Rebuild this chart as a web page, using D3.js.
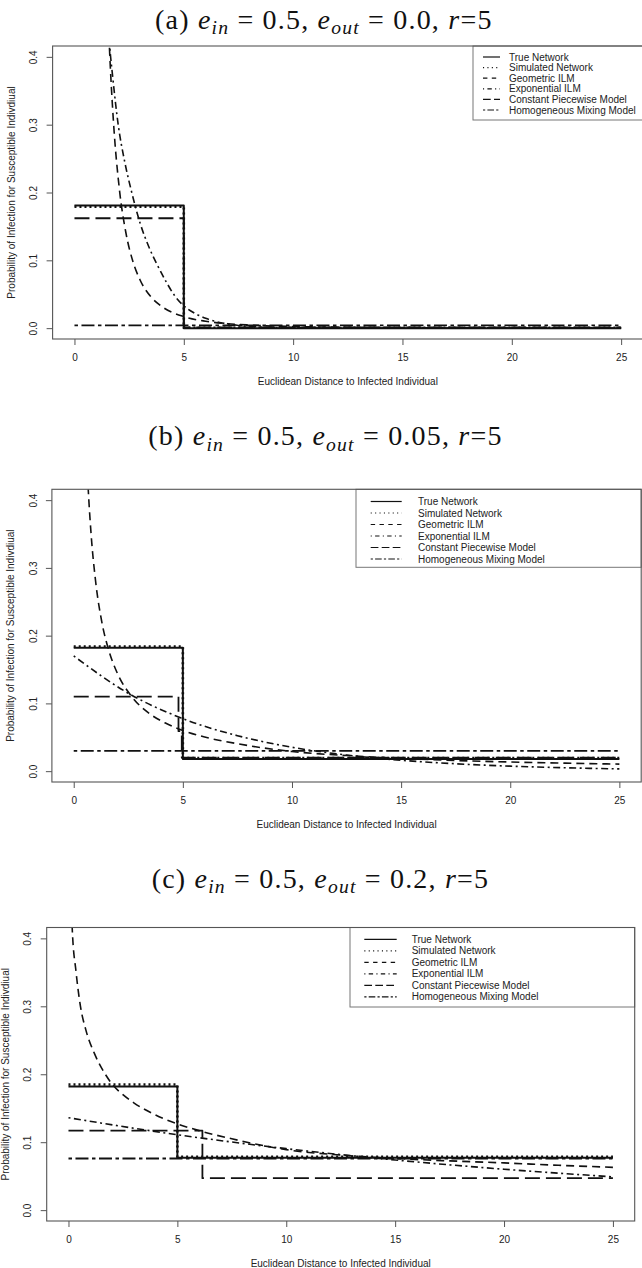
<!DOCTYPE html>
<html><head><meta charset="utf-8">
<script src="https://cdn.jsdelivr.net/npm/d3@7"></script>
<style>body{margin:0;background:#fff} svg{display:block}</style>
</head><body><svg id="c" width="642" height="1268"></svg>
<script>
// ---------- data ----------
const xTicks = [0, 5, 10, 15, 20, 25];
const yTicks = [0, 0.1, 0.2, 0.3, 0.4];
const seriesNames = ["True Network","Simulated Network","Geometric ILM","Exponential ILM","Constant Piecewise Model","Homogeneous Mixing Model"];
const xLabel = "Euclidean Distance to Infected Individual";
const yLabel = "Probability of Infection for Susceptible Indivdiual";

// panel (a): e_in = 0.5, e_out = 0.0
const A_true_d = [0, 5, 25],  A_true_p = [0.181, 0, 0];
const A_sim_d  = [0, 5, 25],  A_sim_p  = [0.179, 0.0005, 0.0005];
const A_geo_d  = [1.3,1.45,1.6,1.78,2.05,2.35,2.68,3.0,3.5,4.0,5.0,6.0,7.0,8.0,10,12,15,20,25];
const A_geo_p  = [0.739,0.544,0.413,0.306,0.206,0.141,0.0975,0.071,0.046,0.0318,0.017,0.0102,0.0066,0.0046,0.0024,0.0015,0.0008,0.00035,0.0002];
const A_exp_d  = [1.4,1.5,1.6,1.75,2.0,2.3,2.62,3.0,3.4,3.76,4.2,4.6,5.0,5.5,6.0,6.5,7.0,7.5,8.0,9.0,10,12,15,25];
const A_exp_p  = [0.53,0.47,0.42,0.37,0.30,0.245,0.20,0.155,0.12,0.095,0.068,0.047,0.033,0.022,0.0145,0.0095,0.0062,0.004,0.0026,0.0011,0.0005,0.0001,0,0];
const A_pw_d   = [0, 5, 25],  A_pw_p   = [0.162, 0.001, 0.001];
const A_hom_d  = [0, 25],     A_hom_p  = [0.004, 0.004];

// panel (b): e_in = 0.5, e_out = 0.05
const B_true_d = [0, 5, 25],  B_true_p = [0.182, 0.018, 0.018];
const B_sim_d  = [0, 5, 25],  B_sim_p  = [0.184, 0.0195, 0.0195];
const B_geo_d  = [0.6,0.67,0.8,1.0,1.3,1.6,2.0,2.66,3.5,4.2,5,6,7.5,10,12.5,15,17.5,20,22.5,25];
const B_geo_p  = [0.459,0.413,0.348,0.281,0.218,0.179,0.1445,0.11,0.0843,0.071,0.06,0.0504,0.0405,0.029,0.023,0.019,0.0158,0.0135,0.0118,0.0104];
const B_exp_d  = [0,2.5,5,7.5,10,12.5,15,17.5,20,22.5,25];
const B_exp_p  = [0.170,0.115,0.0775,0.0524,0.0353,0.0238,0.0161,0.0109,0.0074,0.0050,0.0033];
const B_pw_d   = [0, 4.8, 4.95, 25], B_pw_p = [0.11, 0.059, 0.02, 0.02];
const B_hom_d  = [0, 25],     B_hom_p  = [0.03, 0.03];

// panel (c): e_in = 0.5, e_out = 0.2
const C_true_d = [0, 5, 25],  C_true_p = [0.182, 0.077, 0.077];
const C_sim_d  = [0, 5, 25],  C_sim_p  = [0.185, 0.0785, 0.0785];
const C_geo_d  = [0.14,0.17,0.35,0.55,0.8,1.2,1.69,2.07,2.5,3,4,5,6,7.5,10,12.5,15,17.5,20,22.5,25];
const C_geo_p  = [0.44,0.416,0.35,0.30,0.265,0.23,0.20,0.183,0.17,0.158,0.14,0.127,0.117,0.105,0.089,0.081,0.076,0.0725,0.0695,0.066,0.063];
const C_exp_d  = [0,5,10,15,20,25];
const C_exp_p  = [0.136,0.111,0.0905,0.0738,0.0602,0.049];
const C_pw_d   = [0, 6.15, 25], C_pw_p = [0.117, 0.047, 0.047];
const C_hom_d  = [0, 25],     C_hom_p  = [0.076, 0.076];

const titleLetters = ["(a)", "(b)", "(c)"];
const titleEin = ["0.5", "0.5", "0.5"];
const titleEout = ["0.0", "0.05", "0.2"];
const titleR = ["5", "5", "5"];

// ---------- styles ----------
const lineStyles = [
  {w:2.0, dash:null},
  {w:2.6, dash:"2,3"},
  {w:1.6, dash:"8,5"},
  {w:1.6, dash:"2,3.5,7,3.5"},
  {w:1.8, dash:"15,6"},
  {w:1.8, dash:"3.5,3.5,13,3.5"}
];
const legendDash = [null, "1.1,3.3", "4.4,4.4", "1.1,3.3,4.4,3.3", "7.7,3.3", "2.2,2.2,6.6,2.2"];
const curveKinds = ["step","step","smooth","smooth","step","step"];

const SANS = "'Liberation Sans', Arial, Helvetica, sans-serif";
const SERIF = "'Liberation Serif', 'Times New Roman', serif";

const panels = [
  {L:52.6, R:643, T:46, B:339, titleX:155, titleY:28.5, titleW:353,
   leg:{x:473, s1:483, s2:500, tx:509, first:11, step:10.6, h:74},
   series:[[A_true_d,A_true_p],[A_sim_d,A_sim_p],[A_geo_d,A_geo_p],[A_exp_d,A_exp_p],[A_pw_d,A_pw_p],[A_hom_d,A_hom_p]]},
  {L:51.9, R:641.2, T:489.3, B:782, titleX:148.3, titleY:445, titleW:366,
   leg:{x:356, s1:370.7, s2:401.7, tx:418, first:12.2, step:11.5, h:78},
   series:[[B_true_d,B_true_p],[B_sim_d,B_sim_p],[B_geo_d,B_geo_p],[B_exp_d,B_exp_p],[B_pw_d,B_pw_p],[B_hom_d,B_hom_p]]},
  {L:46.7, R:634.7, T:927.5, B:1221, titleX:151.7, titleY:887.5, titleW:353,
   leg:{x:350, s1:364.3, s2:396.7, tx:411.7, first:11.8, step:11.5, h:79.5},
   series:[[C_true_d,C_true_p],[C_sim_d,C_sim_p],[C_geo_d,C_geo_p],[C_exp_d,C_exp_p],[C_pw_d,C_pw_p],[C_hom_d,C_hom_p]]}
];

const svg = d3.select("#c");
svg.append("rect").attr("width",642).attr("height",1268).attr("fill","#fff");

// ---------- titles ----------
const titleSize = 28;
function drawTitle(i, p) {
  const size = titleSize;
  const t = svg.append("text").attr("class","ttl")
    .attr("x", p.titleX).attr("y", p.titleY)
    .attr("font-family", SERIF).attr("font-size", size).attr("fill","#111");
  const sub = size*0.7, drop = size*0.2;
  t.append("tspan").text(titleLetters[i] + " ");
  t.append("tspan").attr("font-style","italic").text("e");
  t.append("tspan").attr("font-style","italic").attr("font-size",sub).attr("dy",drop).text("in");
  t.append("tspan").attr("dy",-drop).text(" = " + titleEin[i] + ", ");
  t.append("tspan").attr("font-style","italic").text("e");
  t.append("tspan").attr("font-style","italic").attr("font-size",sub).attr("dy",drop).text("out");
  t.append("tspan").attr("dy",-drop).text(" = " + titleEout[i] + ", ");
  t.append("tspan").attr("font-style","italic").text("r");
  t.append("tspan").text("=" + titleR[i]);
  const w = t.node().getComputedTextLength();
  const n = t.text().length;
  const ls = Math.max(0, Math.min(1.2, (p.titleW - w) / (n - 1)));
  t.attr("letter-spacing", ls.toFixed(2));
  return t;
}
panels.forEach((p,i) => drawTitle(i, p));

// ---------- panels ----------
panels.forEach((p, pi) => {
  const x = d3.scaleLinear().domain([-1, 26]).range([p.L, p.R]);
  const y = d3.scaleLinear().domain([-0.016, 0.416]).range([p.B, p.T]);
  const g = svg.append("g");
  const clipId = "clip" + pi;
  g.append("clipPath").attr("id", clipId).append("rect")
    .attr("x", p.L).attr("y", p.T).attr("width", p.R - p.L).attr("height", p.B - p.T);

  const lg = g.append("g");
  lg.append("rect").attr("x", p.leg.x).attr("y", p.T)
    .attr("width", p.R - p.leg.x).attr("height", p.leg.h)
    .attr("fill","#fff").attr("stroke","#777").attr("stroke-width",1);

  const lines = g.append("g").attr("clip-path", `url(#${clipId})`);
  p.series.forEach((s, si) => {
    const pts = s[0].map((d, k) => [d, s[1][k]]);
    const gen = d3.line().x(d => x(d[0])).y(d => y(d[1]))
      .curve(curveKinds[si] === "step" ? d3.curveStepAfter : d3.curveMonotoneX);
    const st = lineStyles[si];
    const path = lines.append("path").attr("d", gen(pts))
      .attr("fill","none").attr("stroke","#111").attr("stroke-width", st.w)
      .attr("stroke-linejoin","round");
    if (st.dash) path.attr("stroke-dasharray", st.dash);
  });

  seriesNames.forEach((name, k) => {
    const cy = p.T + p.leg.first + k * p.leg.step;
    const ln = lg.append("line").attr("x1", p.leg.s1).attr("x2", p.leg.s2)
      .attr("y1", cy).attr("y2", cy).attr("stroke","#111").attr("stroke-width",1.2);
    if (legendDash[k]) ln.attr("stroke-dasharray", legendDash[k]);
    lg.append("text").attr("x", p.leg.tx).attr("y", cy + 3.6)
      .attr("font-family", SANS).attr("font-size", 10).attr("fill","#222").text(name);
  });

  g.append("rect").attr("x", p.L).attr("y", p.T).attr("width", p.R - p.L).attr("height", p.B - p.T)
    .attr("fill","none").attr("stroke","#555").attr("stroke-width",1.1);

  const xa = g.append("g").attr("transform", `translate(0,${p.B})`)
    .call(d3.axisBottom(x).tickValues(xTicks).tickSize(6).tickPadding(8.8).tickFormat(d3.format("d")));
  xa.select(".domain").remove();
  xa.selectAll("line").attr("stroke","#555");
  xa.selectAll("text").attr("font-family", SANS).attr("font-size", 10).attr("fill","#222");

  const ya = g.append("g").attr("transform", `translate(${p.L},0)`)
    .call(d3.axisLeft(y).tickValues(yTicks).tickSize(6).tickFormat(d3.format(".1f")));
  ya.select(".domain").remove();
  ya.selectAll("line").attr("stroke","#555");
  ya.selectAll("text").attr("x", 0).attr("dy", "0.36em")
    .attr("transform", "translate(-19,0) rotate(-90)")
    .attr("text-anchor","middle")
    .attr("font-family", SANS).attr("font-size", 10).attr("fill","#222");

  g.append("text").attr("x", (p.L + p.R) / 2).attr("y", p.B + 46)
    .attr("text-anchor","middle").attr("font-family", SANS).attr("font-size", 10)
    .attr("fill","#222").text(xLabel);
  g.append("text").attr("transform", `translate(${p.L - 41.5 + 3.6},${(p.T + p.B) / 2}) rotate(-90)`)
    .attr("text-anchor","middle").attr("font-family", SANS).attr("font-size", 10)
    .attr("fill","#222").text(yLabel);
});
</script></body></html>
